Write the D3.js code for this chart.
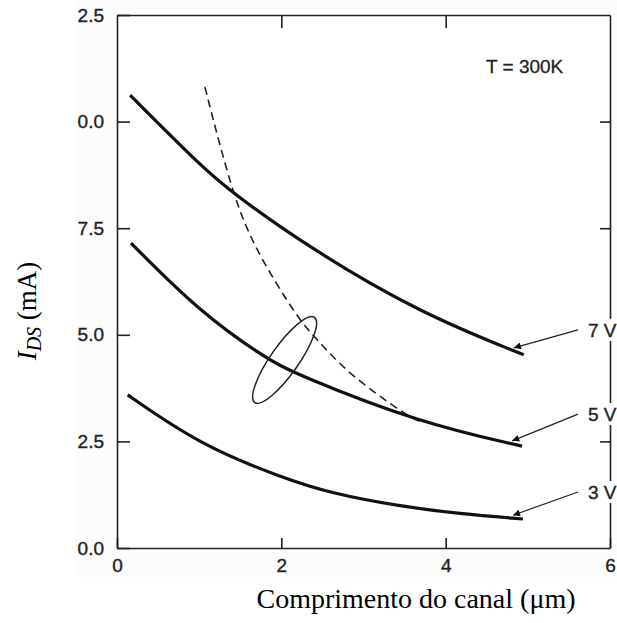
<!DOCTYPE html>
<html>
<head>
<meta charset="utf-8">
<script src="https://cdn.jsdelivr.net/npm/d3@7"></script>
<style>
  body { margin: 0; background: #fff; }
  svg { display: block; }
</style>
</head>
<body>
<div id="chart"></div>
<script>
// values
const xTicks = [0, 2, 4, 6];
const yTicks = [0, 2.5, 5, 7.5, 10, 12.5];
const yTickLabels = ["0.0", "2.5", "5.0", "7.5", "0.0", "2.5"]; // leading digit cropped in the scan

const voltLabels = ["7 V", "5 V", "3 V"];
const len7V = [0.16, 1.01, 1.40, 2.38, 3.69, 4.95];
const ids7V = [10.62, 8.98, 8.33, 6.99, 5.51, 4.53];
const len5V = [0.17, 1.01, 1.80, 2.17, 3.69, 4.93];
const ids5V = [7.15, 5.53, 4.46, 4.08, 2.93, 2.39];
const len3V = [0.13, 1.01, 2.02, 2.63, 3.44, 4.17, 4.94];
const ids3V = [3.59, 2.42, 1.64, 1.27, 0.98, 0.80, 0.68];

// dashed locus
const lenDash = [1.07, 1.40, 1.68, 2.23, 2.41, 2.80, 3.56, 3.70];
const idsDash = [10.81, 8.33, 6.99, 5.30, 4.95, 4.10, 3.06, 2.96];

const ellipseCenter = [2.04, 4.41];
const tempLabel = "T = 300K";

const width = 617, height = 623;
const margin = {top: 15, right: 7, bottom: 75, left: 117};
const sans = "'Liberation Sans', Arial, sans-serif";

const svg = d3.select("#chart").append("svg")
    .attr("width", width)
    .attr("height", height);

// faint scan area
svg.append("rect")
    .attr("x", 77).attr("y", 0)
    .attr("width", width - 77).attr("height", 577)
    .attr("fill", "#fcfcfc");

const x = d3.scaleLinear().domain([0, 6]).range([margin.left, width - margin.right]);
const y = d3.scaleLinear().domain([0, 12.5]).range([height - margin.bottom, margin.top]);

svg.append("defs").append("marker")
    .attr("id", "arrow")
    .attr("viewBox", "0 0 10 10")
    .attr("refX", 10).attr("refY", 5)
    .attr("markerWidth", 11).attr("markerHeight", 7)
    .attr("markerUnits", "userSpaceOnUse")
    .attr("orient", "auto")
  .append("path")
    .attr("d", "M0,0 L10,5 L0,10 Z")
    .attr("fill", "#111");

// plot area
svg.append("rect")
    .attr("x", x(0)).attr("y", y(12.5))
    .attr("width", x(6) - x(0)).attr("height", y(0) - y(12.5))
    .attr("fill", "#fff");

function styleAxis(g) {
  g.select(".domain").attr("stroke", "#222").attr("stroke-width", 1.6);
  g.selectAll(".tick line").attr("stroke", "#222").attr("stroke-width", 1.6);
  g.selectAll(".tick text")
    .attr("fill", "#222")
    .attr("stroke", "#222")
    .attr("stroke-width", 0.35)
    .style("font-family", sans)
    .style("font-size", "19px");
}

svg.append("g")
    .attr("transform", `translate(0,${y(0)})`)
    .call(d3.axisBottom(x).tickValues(xTicks).tickFormat(d3.format("d"))
      .tickSizeInner(-10).tickSizeOuter(0).tickPadding(11))
    .call(styleAxis);

svg.append("g")
    .attr("transform", `translate(0,${y(12.5)})`)
    .call(d3.axisTop(x).tickValues([2, 4]).tickFormat("")
      .tickSizeInner(-13).tickSizeOuter(0))
    .call(styleAxis);

svg.append("g")
    .attr("transform", `translate(${x(0)},0)`)
    .call(d3.axisLeft(y).tickValues(yTicks).tickFormat((d, i) => yTickLabels[i])
      .tickSizeInner(-13).tickSizeOuter(0).tickPadding(13))
    .call(styleAxis);

svg.append("g")
    .attr("transform", `translate(${x(6)},0)`)
    .call(d3.axisRight(y).tickValues([2.5, 5, 7.5, 10]).tickFormat("")
      .tickSizeInner(-10).tickSizeOuter(0))
    .call(styleAxis);

const line = d3.line()
    .x(d => x(d[0]))
    .y(d => y(d[1]))
    .curve(d3.curveBasis);

const series = [
  {label: voltLabels[0], pts: d3.zip(len7V, ids7V), dy: -25},
  {label: voltLabels[1], pts: d3.zip(len5V, ids5V), dy: -32},
  {label: voltLabels[2], pts: d3.zip(len3V, ids3V), dy: -27}
];

svg.append("path")
    .datum(d3.zip(lenDash, idsDash))
    .attr("d", line)
    .attr("fill", "none")
    .attr("stroke", "#222")
    .attr("stroke-width", 1.6)
    .attr("stroke-dasharray", "8,5");

svg.selectAll(".curve")
  .data(series)
  .enter().append("path")
    .attr("class", "curve")
    .attr("d", d => line(d.pts))
    .attr("fill", "none")
    .attr("stroke", "#111")
    .attr("stroke-width", 3.2);

// ellipse marking the intersection
svg.append("ellipse")
    .attr("cx", x(ellipseCenter[0]))
    .attr("cy", y(ellipseCenter[1]))
    .attr("rx", 52).attr("ry", 14)
    .attr("transform", `rotate(-55,${x(ellipseCenter[0])},${y(ellipseCenter[1])})`)
    .attr("fill", "none")
    .attr("stroke", "#222")
    .attr("stroke-width", 1.5);

// labels + arrows
series.forEach(s => {
  const end = s.pts[s.pts.length - 1];
  const prev = s.pts[s.pts.length - 2];
  const tx = end[0] - 0.12;
  const ty = prev[1] + (end[1] - prev[1]) * (tx - prev[0]) / (end[0] - prev[0]);
  const ly = y(end[1]) + s.dy;
  svg.append("rect")
    .attr("x", 585).attr("y", ly - 11)
    .attr("width", 32).attr("height", 22)
    .attr("fill", "#fff");
  svg.append("line")
    .attr("x1", 578).attr("y1", ly)
    .attr("x2", x(tx)).attr("y2", y(ty) - 3)
    .attr("stroke", "#222")
    .attr("stroke-width", 1.2)
    .attr("marker-end", "url(#arrow)");
  svg.append("text")
    .attr("x", 588).attr("y", ly + 7)
    .style("font-family", sans)
    .style("font-size", "19px")
    .attr("fill", "#222")
    .attr("stroke", "#222")
    .attr("stroke-width", 0.35)
    .text(s.label);
});

svg.append("text")
    .attr("x", 486).attr("y", 73)
    .style("font-family", sans)
    .style("font-size", "19px")
    .attr("fill", "#222")
    .attr("stroke", "#222")
    .attr("stroke-width", 0.3)
    .text(tempLabel);

// axis titles
svg.append("text")
    .attr("x", 416).attr("y", 608)
    .attr("text-anchor", "middle")
    .style("font-family", "'Liberation Serif', 'Times New Roman', serif")
    .style("font-size", "28px")
    .text("Comprimento do canal (\u03bcm)");

const yt = svg.append("text")
    .attr("transform", "translate(36,311) rotate(-90)")
    .attr("text-anchor", "middle")
    .style("font-family", "'Liberation Serif', 'Times New Roman', serif")
    .style("font-size", "27px");
yt.append("tspan").style("font-style", "italic").text("I");
yt.append("tspan").style("font-style", "italic").attr("dy", 5).style("font-size", "20px").text("DS");
yt.append("tspan").attr("dy", -5).text(" (mA)");
</script>
</body>
</html>
